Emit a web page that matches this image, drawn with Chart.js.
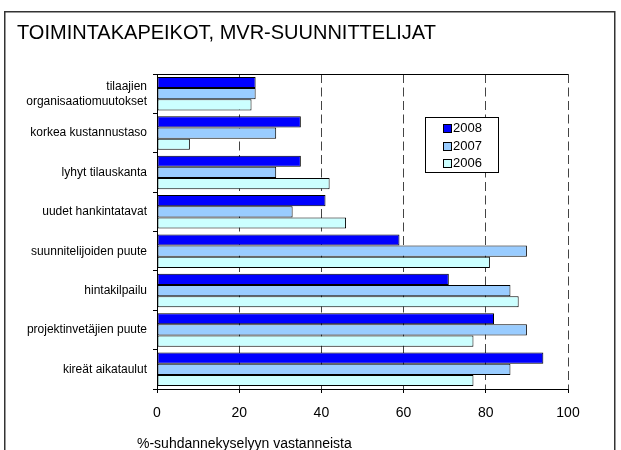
<!DOCTYPE html>
<html><head><meta charset="utf-8">
<script src="https://cdn.jsdelivr.net/npm/chart.js@4.4.1/dist/chart.umd.min.js"></script>
<style>html,body{margin:0;padding:0;background:#fff}#wrap{width:621px;height:450px;position:relative}</style>
</head><body><div id="wrap"><canvas id="c" width="621" height="450"></canvas></div>
<script>
const titleText = 'TOIMINTAKAPEIKOT, MVR-SUUNNITTELIJAT';
const axisTitle = '%-suhdannekyselyyn vastanneista';
const categories = [['tilaajien','organisaatiomuutokset'],'korkea kustannustaso','lyhyt tilauskanta','uudet hankintatavat','suunnitelijoiden puute','hintakilpailu','projektinvetäjien puute','kireät aikataulut'];
const seriesNames = ['2008','2007','2006'];
const values2008 = [24,35,35,41,59,71,82,94];
const values2007 = [24,29,29,33,90,86,90,86];
const values2006 = [23,8,42,46,81,88,77,77];
const xTicks = [0,20,40,60,80,100];
const colors = ['#0000FF','#99CCFF','#CCFFFF'];

const FONT = "'Liberation Sans', Arial, sans-serif";
Chart.defaults.font.family = FONT;
Chart.defaults.color = '#000';

const decor = {
  id: 'decor',
  beforeDraw(chart) {
    const ctx = chart.ctx; ctx.save(); ctx.fillStyle = '#fff'; ctx.fillRect(0, 0, chart.width, chart.height); ctx.restore();
  },
  afterDraw(chart) {
    const ctx = chart.ctx, a = chart.chartArea;
    ctx.save();
    ctx.strokeStyle = '#333'; ctx.lineWidth = 1.5;
    ctx.beginPath(); ctx.moveTo(4.75, 452); ctx.lineTo(4.75, 11.75); ctx.lineTo(614.75, 11.75); ctx.lineTo(614.75, 452); ctx.stroke();
    ctx.strokeStyle = '#000'; ctx.lineWidth = 1;
    const ty = Math.round(a.top) + 0.5;
    ctx.beginPath(); ctx.moveTo(a.left, ty); ctx.lineTo(a.right, ty); ctx.stroke();
    ctx.fillStyle = '#000'; ctx.font = '14px ' + FONT; ctx.textBaseline = 'alphabetic'; ctx.textAlign = 'left';
    ctx.fillText(axisTitle, 137, 448);
    // legend
    const bx = 425.5, by = 117.5, bw = 73, bh = 55;
    ctx.fillStyle = '#fff'; ctx.fillRect(bx, by, bw, bh);
    ctx.strokeStyle = '#000'; ctx.strokeRect(bx, by, bw, bh);
    ctx.font = '13px ' + FONT; ctx.textBaseline = 'middle';
    const rows = [127.7, 145.5, 163.3];
    chart.data.datasets.forEach((ds, i) => {
      const cy = rows[i];
      ctx.fillStyle = ds.backgroundColor;
      ctx.fillRect(443.5, Math.round(cy - 4) + 0.5, 8, 8);
      ctx.strokeStyle = '#000';
      ctx.strokeRect(443.5, Math.round(cy - 4) + 0.5, 8, 8);
      ctx.fillStyle = '#000';
      ctx.fillText(ds.label, 453, cy + 0.5);
    });
    ctx.restore();
  }
};

new Chart(document.getElementById('c'), {
  type: 'bar',
  data: {
    labels: categories,
    datasets: [
      { label: seriesNames[0], data: values2008, backgroundColor: colors[0] },
      { label: seriesNames[1], data: values2007, backgroundColor: colors[1] },
      { label: seriesNames[2], data: values2006, backgroundColor: colors[2] }
    ]
  },
  options: {
    indexAxis: 'y',
    responsive: false,
    animation: false,
    devicePixelRatio: 1,
    layout: { padding: { left: 17, right: 53, top: 0, bottom: 0 } },
    datasets: { bar: { borderColor: '#000', borderWidth: 1, borderSkipped: false, categoryPercentage: 0.85, barPercentage: 1.0 } },
    plugins: {
      legend: { display: false },
      tooltip: { enabled: false },
      title: {
        display: true, text: titleText, align: 'start', color: '#000',
        font: { size: 20, weight: 'normal', family: FONT, lineHeight: 1.2 },
        padding: { top: 21, bottom: 29 }
      }
    },
    scales: {
      x: {
        type: 'linear', min: 0, max: 100,
        afterBuildTicks: (s) => { s.ticks = xTicks.map(v => ({ value: v })); },
        afterFit: (s) => { s.height = 61; },
        grid: { color: '#444', tickLength: 4, tickBorderDash: [], tickColor: '#000', lineWidth: 1 },
        border: { display: true, color: '#000', width: 1, dash: [9, 4.5] },
        ticks: { font: { size: 14 }, color: '#000', padding: 12, maxRotation: 0 }
      },
      y: {
        afterFit: (s) => { s.width = 140; },
        grid: { drawOnChartArea: false, tickLength: 4, color: '#000', offset: true },
        border: { display: true, color: '#000', width: 1 },
        ticks: { font: { size: 12, lineHeight: 1.25 }, color: '#000', padding: 6 }
      }
    }
  },
  plugins: [decor]
});
</script>
</body></html>
